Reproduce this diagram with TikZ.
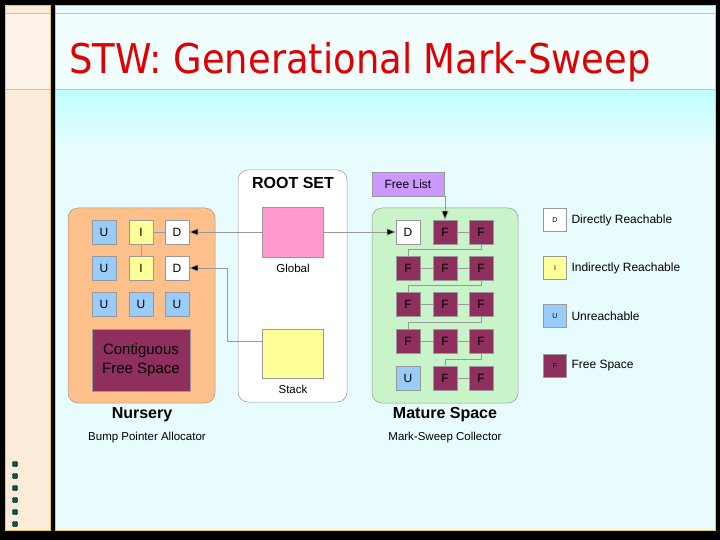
\documentclass[tikz,border=0pt]{standalone}
\usepackage{fontspec}
\setmainfont{Liberation Sans}
\newfontfamily\titlefont{DejaVu Sans Condensed}
\usetikzlibrary{arrows.meta}
\definecolor{bgc}{HTML}{E9FCFD}
\definecolor{strip}{HTML}{FBEBD8}
\definecolor{gold}{HTML}{E8C84A}
\definecolor{orangebox}{HTML}{FDC08A}
\definecolor{greenbox}{HTML}{C9F4C9}
\definecolor{ucol}{HTML}{99CCF8}
\definecolor{icol}{HTML}{FFFF99}
\definecolor{fcol}{HTML}{8E2F5E}
\definecolor{pinkc}{HTML}{FF99CC}
\definecolor{purp}{HTML}{CC99FF}
\definecolor{edge}{HTML}{999999}
\definecolor{titlered}{HTML}{E00000}
\begin{document}
\begin{tikzpicture}[x=1pt,y=-1pt,
  cell/.style={draw=edge,minimum size=24pt,inner sep=0pt,font=\fontsize{12}{14}\selectfont},
  ucell/.style={cell,fill=ucol},
  icell/.style={cell,fill=icol},
  dcell/.style={cell,fill=white},
  fcell/.style={cell,fill=fcol,text=black},
  lnk/.style={draw=edge,line width=0.6pt},
  arr/.style={lnk,-{Triangle[length=9pt,width=7pt,fill=black]}},
  panel/.style={draw=edge,rounded corners=10pt,line width=0.5pt},
  big/.style={font=\bfseries\fontsize{16}{18}\selectfont},
  small/.style={font=\fontsize{11.5}{13}\selectfont},
  leg/.style={font=\fontsize{12}{14}\selectfont}]
\useasboundingbox (0,0) rectangle (720,540);
\fill[black] (0,0) rectangle (720,540);
\fill[strip] (5,5) rectangle (50,530);
\fill[bgc] (55,5) rectangle (715,530);
\shade[top color=cyan!25,bottom color=bgc] (55,89) rectangle (715,150);
\fill[bgc!60!white] (55,13) rectangle (715,89);
\fill[strip!60!white] (5,13) rectangle (50,89);
\draw[gold] (5,5) rectangle (50,530);
\draw[gold] (55,5) rectangle (715,530);
\draw[gold,line width=0.8pt] (5,13) -- (715,13) (5,89) -- (715,89);
\fill[black] (50.5,5) rectangle (54.5,530);
\node[text=titlered,font=\titlefont\fontsize{41}{46}\selectfont,anchor=west] (title) at (66,62) {STW: Generational Mark-Sweep};
\foreach \i in {0,...,5} \node[fill=teal!70!black,draw=black,minimum size=5pt,inner sep=0pt,rounded corners=1pt] (b\i) at (15,464+\i*12) {};
% panels
\node[panel,fill=orangebox,minimum width=147pt,minimum height=195pt] (nur) at (141.5,305.5) {};
\node[panel,fill=white,minimum width=109pt,minimum height=232pt] (root) at (292.5,286) {};
\node[panel,fill=greenbox,minimum width=146pt,minimum height=195pt] (mat) at (445,305.5) {};
\node[big] (roottxt) at (293,183) {ROOT SET};
\node[big] (nurtxt) at (142,415) {Nursery};
\node[small] (nursub) at (147,438) {Bump Pointer Allocator};
\node[big] (mattxt) at (445,415) {Mature Space};
\node[small] (matsub) at (445,438) {Mark-Sweep Collector};
% root
\node[draw=edge,fill=pinkc,minimum width=61pt,minimum height=50pt] (glob) at (292.5,232) {};
\node[small] (globt) at (293,268) {Global};
\node[draw=edge,fill=icol,minimum width=61pt,minimum height=49pt] (stack) at (292.5,353.5) {};
\node[small] (stackt) at (293,389) {Stack};
% nursery cells
\node[ucell] (n11) at (104,232) {U};
\node[icell] (n12) at (141,232) {I};
\node[dcell] (n13) at (177,232) {D};
\node[ucell] (n21) at (104,268) {U};
\node[icell] (n22) at (141,268) {I};
\node[dcell] (n23) at (177,268) {D};
\node[ucell] (n31) at (104,304) {U};
\node[ucell] (n32) at (141,304) {U};
\node[ucell] (n33) at (177,304) {U};
\node[draw=edge,fill=fcol,minimum width=98pt,minimum height=62pt,align=center,font=\fontsize{15}{19}\selectfont,text=black] (cfs) at (141,360) {Contiguous\\Free Space};
\draw[lnk] (n12) -- (n13);
\draw[lnk] (n12) -- (n22);
% mature cells
\node[dcell] (m11) at (408,232) {D};
\node[fcell] (m12) at (445,232) {F};
\node[fcell] (m13) at (481,232) {F};
\foreach \r/\y in {2/268,3/304,4/341} {
  \node[fcell] (m\r1) at (408,\y) {F};
  \node[fcell] (m\r2) at (445,\y) {F};
  \node[fcell] (m\r3) at (481,\y) {F};
}
\node[ucell] (m51) at (408,378) {U};
\node[fcell] (m52) at (445,378) {F};
\node[fcell] (m53) at (481,378) {F};
\draw[lnk] (m12) -- (m13);
\draw[lnk] (m13.south) -- ++(0,5) -| (m21.north);
\draw[lnk] (m21) -- (m22) -- (m23);
\draw[lnk] (m23.south) -- ++(0,5) -| (m31.north);
\draw[lnk] (m31) -- (m32) -- (m33);
\draw[lnk] (m33.south) -- ++(0,6) -| (m41.north);
\draw[lnk] (m41) -- (m42) -- (m43);
\draw[lnk] (m43.south) -- ++(0,6) -| (m52.north);
\draw[lnk] (m52) -- (m53);
% free list
\node[draw=edge,fill=purp,minimum width=72pt,minimum height=24pt,leg] (fl) at (408,184) {Free List};
\draw[arr] (fl.south -| m12) -- (m12.north);
% root arrows
\draw[arr] (glob.east) -- (m11.west);
\draw[arr] (glob.west) -- (n13.east);
\coordinate (sk) at (262,341);
\draw[arr] (sk) -- (227,341) -- (227,268) -- (n23.east);
% legend
\node[dcell,minimum size=23pt,font=\scriptsize] (l1) at (555,220) {D};
\node[icell,minimum size=23pt,font=\scriptsize] (l2) at (555,268) {I};
\node[ucell,minimum size=23pt,font=\scriptsize] (l3) at (555,316) {U};
\node[fcell,minimum size=23pt,font=\scriptsize] (l4) at (555,366) {F};
\node[leg,anchor=west] (lt1) at (568,220) {Directly Reachable};
\node[leg,anchor=west] (lt2) at (568,268) {Indirectly Reachable};
\node[leg,anchor=west] (lt3) at (568,316) {Unreachable};
\node[leg,anchor=west] (lt4) at (568,366) {Free Space};
\end{tikzpicture}
\end{document}
